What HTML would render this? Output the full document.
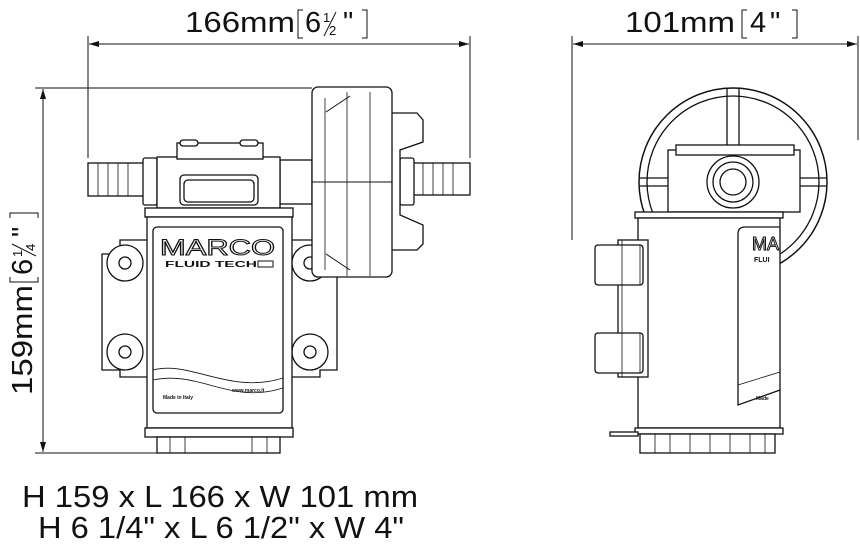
<!DOCTYPE html>
<html><head><style>
html,body{margin:0;padding:0;background:#fff;}
svg{display:block;}
text{font-family:"Liberation Sans",Arial,sans-serif;fill:#111;}
</style></head><body>
<svg width="860" height="546" viewBox="0 0 860 546" xmlns="http://www.w3.org/2000/svg">
<defs>
<marker id="a" viewBox="0 0 10 6" refX="10" refY="3" markerWidth="14" markerHeight="6" markerUnits="userSpaceOnUse" orient="auto-start-reverse"><path d="M0,0L10,3L0,6z" fill="#111"/></marker>
</defs>
<g stroke="#111" stroke-width="1" fill="none">
<line x1="88" y1="36" x2="88" y2="158"/>
<line x1="470" y1="36" x2="470" y2="158"/>
<line x1="89" y1="44" x2="469" y2="44" marker-start="url(#a)" marker-end="url(#a)"/>
<line x1="35" y1="88" x2="312" y2="88"/>
<line x1="35" y1="453" x2="160" y2="453"/>
<line x1="43" y1="89" x2="43" y2="452" marker-start="url(#a)" marker-end="url(#a)"/>
<line x1="572" y1="36" x2="572" y2="240"/>
<line x1="858" y1="36" x2="858" y2="140"/>
<line x1="573" y1="44" x2="857" y2="44" marker-start="url(#a)" marker-end="url(#a)"/>
</g>

<text x="185" y="32" font-size="29" textLength="110" lengthAdjust="spacingAndGlyphs">166mm</text>
<path d="M303,10H298V38H303M362,10H367V38H362" stroke="#111" fill="none" stroke-width="1"/>
<text x="305" y="32" font-size="29">6</text>
<text x="323" y="22" font-size="13">1</text><text x="329" y="35" font-size="13">2</text>
<path d="M336,12L324,36" stroke="#111" stroke-width="1"/>
<text x="343" y="32" font-size="29">"</text>

<text x="625" y="32" font-size="29" textLength="110" lengthAdjust="spacingAndGlyphs">101mm</text>
<path d="M747,10H742V38H747M792,10H797V38H792" stroke="#111" fill="none" stroke-width="1"/>
<text x="750" y="32" font-size="29">4</text>
<text x="770" y="32" font-size="29">"</text>

<g transform="translate(32,395) rotate(-90)">
<text x="0" y="0" font-size="29" textLength="110" lengthAdjust="spacingAndGlyphs">159mm</text>
<path d="M118,-22H113V6H118M177,-22H182V6H177" stroke="#111" fill="none" stroke-width="1"/>
<text x="120" y="0" font-size="29">6</text>
<text x="138" y="-10" font-size="13">1</text><text x="144" y="3" font-size="13">4</text>
<path d="M151,-20L139,4" stroke="#111" stroke-width="1"/>
<text x="158" y="0" font-size="29">"</text>
</g>

<text x="22" y="507" font-size="31" textLength="396" lengthAdjust="spacingAndGlyphs">H 159 x L 166 x W 101 mm</text>
<text x="38" y="538" font-size="31" textLength="366" lengthAdjust="spacingAndGlyphs">H 6 1/4" x L 6 1/2" x W 4"</text>

<g stroke="#111" stroke-width="1.3" fill="#fff">
<path d="M120,240H320V254H337V370H320V377H120V370H102V254H120Z"/>
<rect x="88" y="163" width="56" height="33"/>
<path d="M98,163V196M108,163V196M118,163V196M128,163V196" fill="none" stroke-width="0.8"/>
<rect x="143" y="158" width="14" height="47" rx="2"/>
<rect x="413" y="163" width="57" height="32"/>
<path d="M423,163V195M433,163V195M443,163V195M453,163V195" fill="none" stroke-width="0.8"/>
<rect x="400" y="158" width="14" height="47" rx="2"/>
<rect x="280" y="160" width="32" height="44"/>
<rect x="157" y="157" width="123" height="51"/>
<rect x="177" y="143" width="86" height="16"/>
<rect x="180" y="140" width="18" height="6" rx="3"/>
<rect x="240" y="140" width="18" height="6" rx="3"/>
<rect x="180" y="175" width="78" height="30" rx="4"/>
<rect x="184" y="180" width="70" height="22" rx="4"/>
<rect x="145" y="208" width="148" height="9"/>
<rect x="147" y="217" width="145" height="211"/>
<rect x="153" y="227" width="130" height="186" rx="4"/>
<path d="M153,370C190,360 230,395 283,378M153,380C200,370 230,405 283,388" fill="none" stroke-width="0.8"/>
<rect x="145" y="428" width="148" height="9"/>
<rect x="157" y="437" width="123" height="16"/>
<path d="M170,437V453M185,437V453M252,437V453M267,437V453" fill="none" stroke-width="0.8"/>
<circle cx="125" cy="263" r="18"/><circle cx="125" cy="263" r="6"/>
<circle cx="125" cy="352" r="18"/><circle cx="125" cy="352" r="6"/>
<circle cx="310" cy="263" r="18"/><circle cx="310" cy="263" r="6"/>
<circle cx="310" cy="352" r="18"/><circle cx="310" cy="352" r="6"/>
<path d="M370,113H417L423,120V142L400,150V215L423,225V244L417,250H370Z"/>
<rect x="312" y="87" width="80" height="190" rx="6"/>
<path d="M325,98V270M347,92V276M370,92V276" fill="none" stroke-width="0.8"/>
<path d="M326,112L350,96M326,254L350,270M312,182H392" fill="none" stroke-width="1"/>
</g>
<text x="160" y="255" font-size="22" fill="none" stroke="#111" stroke-width="1" textLength="115" lengthAdjust="spacingAndGlyphs" style="fill:none">MARCO</text>
<text x="165" y="267" font-size="8" font-weight="bold" textLength="92" lengthAdjust="spacingAndGlyphs">FLUID TECH</text>
<rect x="258" y="261" width="15" height="6" fill="none" stroke="#111"/>
<text x="163" y="399" font-size="5" font-weight="bold">Made in Italy</text>
<text x="232" y="392" font-size="5" font-weight="bold">www.marco.it</text>

<g stroke="#111" stroke-width="1.3" fill="#fff">
<circle cx="733" cy="182" r="94" fill="none" stroke-width="1.5"/>
<circle cx="733" cy="182" r="86" fill="none"/>
<path d="M727,88V150M739,88V150M640,178H668M640,186H668M800,178H826M800,186H826" fill="none"/>
<rect x="668" y="150" width="132" height="62"/>
<rect x="676" y="145" width="118" height="10"/>
<circle cx="733" cy="182" r="26"/><circle cx="733" cy="182" r="20"/><circle cx="733" cy="182" r="13"/>
<rect x="635" y="212" width="148" height="6"/>
<rect x="638" y="218" width="142" height="210"/>
<path d="M780,227H745Q738,227 738,234V405L780,390" fill="none"/>
<path d="M738,385L780,372" fill="none" stroke-width="0.8"/>
<rect x="618" y="240" width="30" height="137"/>
<rect x="595" y="245" width="48" height="40" rx="3"/>
<rect x="595" y="333" width="48" height="40" rx="3"/>
<path d="M622,240V377M640,245V285M640,333V373" fill="none" stroke-width="0.8"/>
<rect x="635" y="428" width="148" height="6"/>
<rect x="640" y="434" width="135" height="19"/>
<path d="M655,434V453M670,434V453M690,434V453M710,434V453M730,434V453M750,434V453M765,434V453" fill="none" stroke-width="0.8"/>
<rect x="610" y="432" width="28" height="4"/>
</g>
<text x="752" y="250" font-size="18" fill="none" stroke="#111" stroke-width="1" style="fill:none">MA</text>
<text x="754" y="262" font-size="7" font-weight="bold">FLUI</text>
<text x="756" y="400" font-size="5" font-weight="bold">Made</text>
</svg>
</body></html>
